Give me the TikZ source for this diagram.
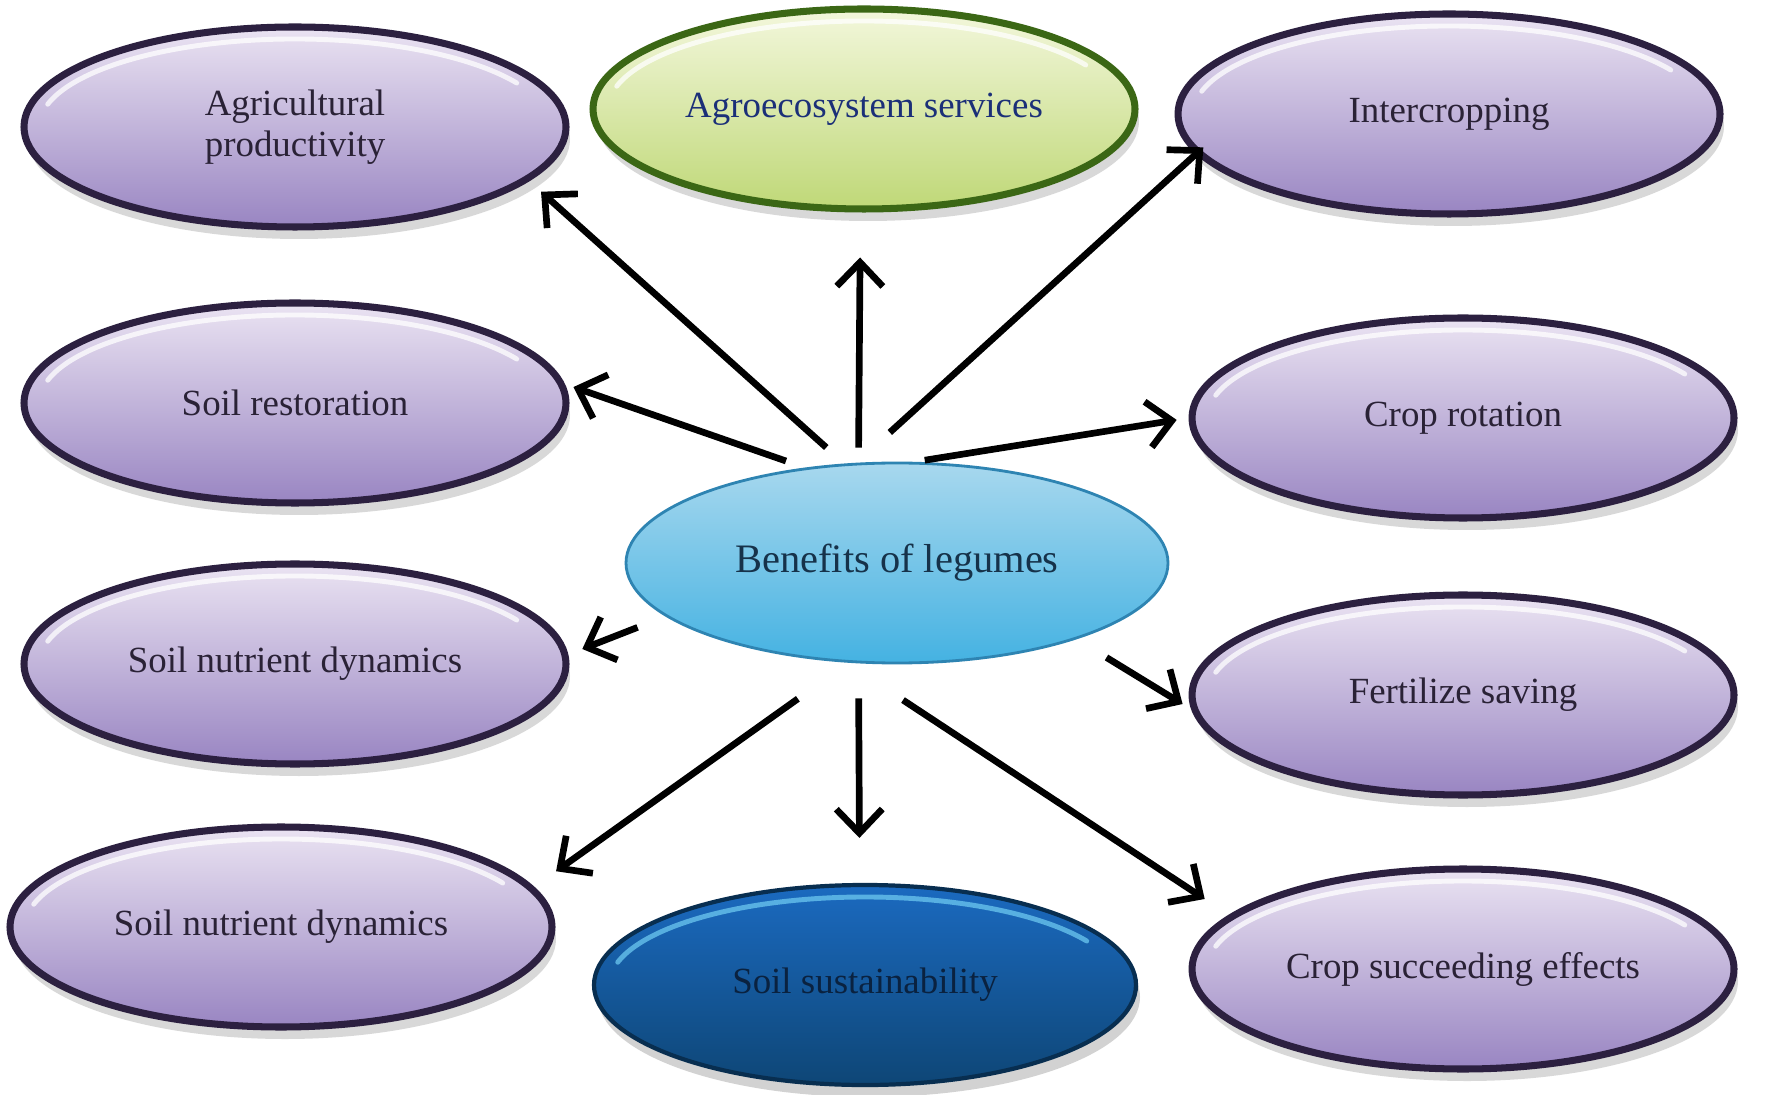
\documentclass[tikz,border=0pt]{standalone}
\usepackage{fontspec}
\setmainfont{Liberation Serif}
\usetikzlibrary{shapes.geometric,arrows.meta,shadows}
\definecolor{nlav}{HTML}{EAE3F2}
\definecolor{npurple}{HTML}{9985C2}
\definecolor{ndarkpurple}{HTML}{2C2040}
\definecolor{ntext}{HTML}{2A2236}
\definecolor{nlightgreen}{HTML}{F3F7DC}
\definecolor{ngreen}{HTML}{BFD877}
\definecolor{ndarkgreen}{HTML}{3B6715}
\definecolor{nnavytext}{HTML}{1B2F78}
\definecolor{nsky}{HTML}{A8D8EE}
\definecolor{nblue}{HTML}{44B2E2}
\definecolor{nbluedraw}{HTML}{2E84B2}
\definecolor{nbluetext}{HTML}{16324A}
\definecolor{nroyal}{HTML}{1B6AC0}
\definecolor{ndeep}{HTML}{0E4676}
\definecolor{ndeepdraw}{HTML}{082E50}
\definecolor{ndeeptext}{HTML}{0A2240}
\definecolor{ncyan}{HTML}{6CC8F0}
\tikzset{
 bubble/.style={ellipse, minimum width=5.42cm, minimum height=2cm, inner sep=0pt, align=center, font=\fontsize{10.5}{11.5}\selectfont},
 gloss/.style={path picture={\draw[#1, opacity=0.75, line width=1.4pt, line cap=round] ([shift={(165:2.56 and 0.88)}]path picture bounding box.center) arc[start angle=165, end angle=30, x radius=2.56, y radius=0.88];}},
 purplebub/.style={bubble, top color=nlav, bottom color=npurple, draw=ndarkpurple, line width=2pt, text=ntext, gloss=white, drop shadow={opacity=0.3, shadow xshift=0.4mm, shadow yshift=-1.2mm}},
 greenbub/.style={bubble, top color=nlightgreen, bottom color=ngreen, draw=ndarkgreen, line width=2pt, text=nnavytext, gloss=white, drop shadow={opacity=0.3, shadow xshift=0.4mm, shadow yshift=-1.2mm}},
 centerbub/.style={bubble, top color=nsky, bottom color=nblue, draw=nbluedraw, line width=0.8pt, text=nbluetext, font=\fontsize{11.5}{13}\selectfont},
 deepbub/.style={bubble, top color=nroyal, bottom color=ndeep, draw=ndeepdraw, line width=1.2pt, text=ndeeptext, gloss=ncyan, drop shadow={opacity=0.35, shadow xshift=0.4mm, shadow yshift=-1.2mm}},
 arr/.style={draw=black, line width=1.9pt, -{Straight Barb[length=2.4mm, width=4.6mm, line width=1.9pt]}}
}
\begin{document}
\begin{tikzpicture}
 \useasboundingbox[fill=white] (0,0) rectangle (17.65,10.94);
 \node[purplebub] (agri) at (2.95,9.67) {Agricultural\\productivity};
 \node[greenbub] (agro) at (8.64,9.85) {Agroecosystem services};
 \node[purplebub] (inter) at (14.49,9.80) {Intercropping};
 \node[purplebub] (rest) at (2.95,6.91) {Soil restoration};
 \node[purplebub] (rot) at (14.63,6.76) {Crop rotation};
 \node[centerbub] (ben) at (8.97,5.31) {Benefits of legumes};
 \node[purplebub] (nutA) at (2.95,4.30) {Soil nutrient dynamics};
 \node[purplebub] (fert) at (14.63,3.99) {Fertilize saving};
 \node[purplebub] (nutB) at (2.81,1.67) {Soil nutrient dynamics};
 \node[deepbub] (sust) at (8.65,1.09) {Soil sustainability};
 \node[purplebub] (succ) at (14.63,1.25) {Crop succeeding effects};
 \foreach \a/\t/\b/\s/\e in {118/agri/-13/0.24/0.16, 111/agro/-92/0.15/0.45, 112/inter/189/0.45/-0.1, 134.5/rest/4/0.2/0.09, 80/rot/180/0.1/0.12, 193/nutA/2/0.3/0.15, -23/fert/183/0.35/0.1, 244/nutB/9/0.62/0.27, 249/sust/93/0.35/0.45, 243/succ/167/0.68/0.29}
  \draw[arr, shorten <=\s cm, shorten >=\e cm] (ben.\a) -- (\t.\b);
\end{tikzpicture}
\end{document}
